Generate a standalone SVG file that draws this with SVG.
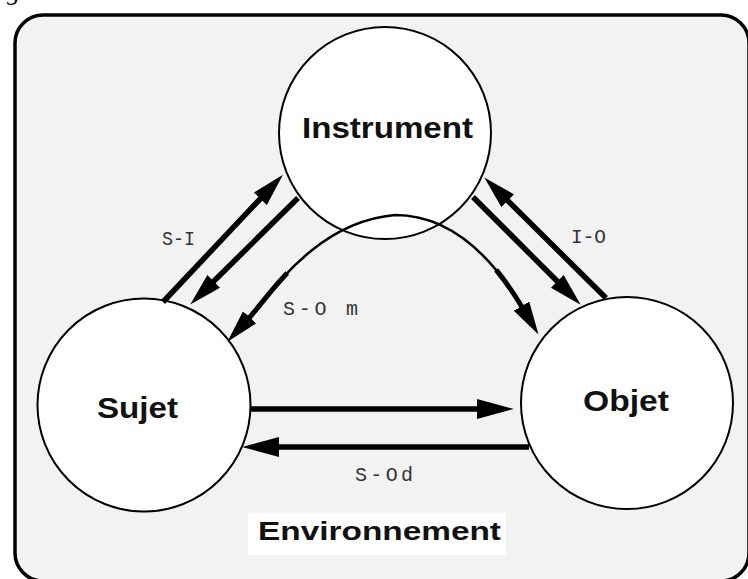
<svg xmlns="http://www.w3.org/2000/svg" width="748" height="579" viewBox="0 0 748 579">
<style>
.node circle{fill:#fff;stroke:#000;stroke-width:2}
.title{font-family:"Liberation Sans",Arial,sans-serif;font-weight:bold;fill:#111}
.lbl{font-family:"Liberation Mono","Courier New",monospace;font-size:20px;fill:#333}
.con{fill:none;stroke:#000;stroke-linecap:butt}
.thick{stroke-width:5.5}
</style>
<defs>
<marker id="headL" markerUnits="userSpaceOnUse" markerWidth="40" markerHeight="22" refX="1" refY="11" orient="auto-start-reverse">
<path d="M0,1 L37,11 L0,21 z" fill="#000"/>
</marker>
<marker id="headS" markerUnits="userSpaceOnUse" markerWidth="36" markerHeight="20" refX="1" refY="9" orient="auto-start-reverse">
<path d="M0,0 L33,9 L0,18 z" fill="#000"/>
</marker>
</defs>
<rect width="748" height="579" fill="#fff"/>
<text x="7" y="0" font-family="Liberation Serif,serif" font-size="26" font-style="italic" fill="#000">g</text>
<rect id="frame" x="15" y="15" width="734" height="566" rx="28" ry="28" fill="#f2f2f2" stroke="#000" stroke-width="3.5"/>
<g id="instrument" class="node">
<circle cx="385" cy="133" r="106"/>
<text class="title" x="302" y="138" font-size="30" textLength="171" lengthAdjust="spacingAndGlyphs">Instrument</text>
</g>
<g id="sujet" class="node">
<circle cx="144" cy="405" r="106.5"/>
<text class="title" x="97" y="418" font-size="30" textLength="81" lengthAdjust="spacingAndGlyphs">Sujet</text>
</g>
<g id="objet" class="node">
<circle cx="627" cy="403" r="106"/>
<text class="title" x="583" y="411" font-size="30" textLength="86" lengthAdjust="spacingAndGlyphs">Objet</text>
</g>
<g id="environnement">
<rect x="248" y="513" width="258" height="42" fill="#fff"/>
<text class="title" x="258" y="540" font-size="25.5" textLength="243" lengthAdjust="spacingAndGlyphs">Environnement</text>
</g>
<g id="connectors">
<path class="con thick" d="M163,302 L261,198" marker-end="url(#headS)"/>
<path class="con thick" d="M298,198 L213,282" marker-end="url(#headS)"/>
<path class="con thick" d="M473,197 L558,282" marker-end="url(#headS)"/>
<path class="con thick" d="M606,298 L507,200" marker-end="url(#headS)"/>
<path class="con thick" d="M250,409 L478,409" marker-end="url(#headL)"/>
<path class="con thick" d="M529,447 L278,447" marker-end="url(#headL)"/>
<path class="con" stroke-width="2.5" d="M249,318 C270,295 315,222 395,215 C455,215 495,262 522,307" marker-start="url(#headS)" marker-end="url(#headS)"/>
<path class="con" stroke-width="5" pathLength="100" stroke-dasharray="17 70 13" d="M249,318 C270,295 315,222 395,215 C455,215 495,262 522,307"/>
</g>
<g id="labels">
<text class="lbl" x="162" y="245" textLength="33" lengthAdjust="spacingAndGlyphs">S-I</text>
<text class="lbl" x="571" y="243" textLength="35" lengthAdjust="spacingAndGlyphs">I-O</text>
<text class="lbl" x="283" y="315" textLength="75">S-O m</text>
<text class="lbl" x="355" y="481" textLength="58">S-Od</text>
</g>
</svg>
